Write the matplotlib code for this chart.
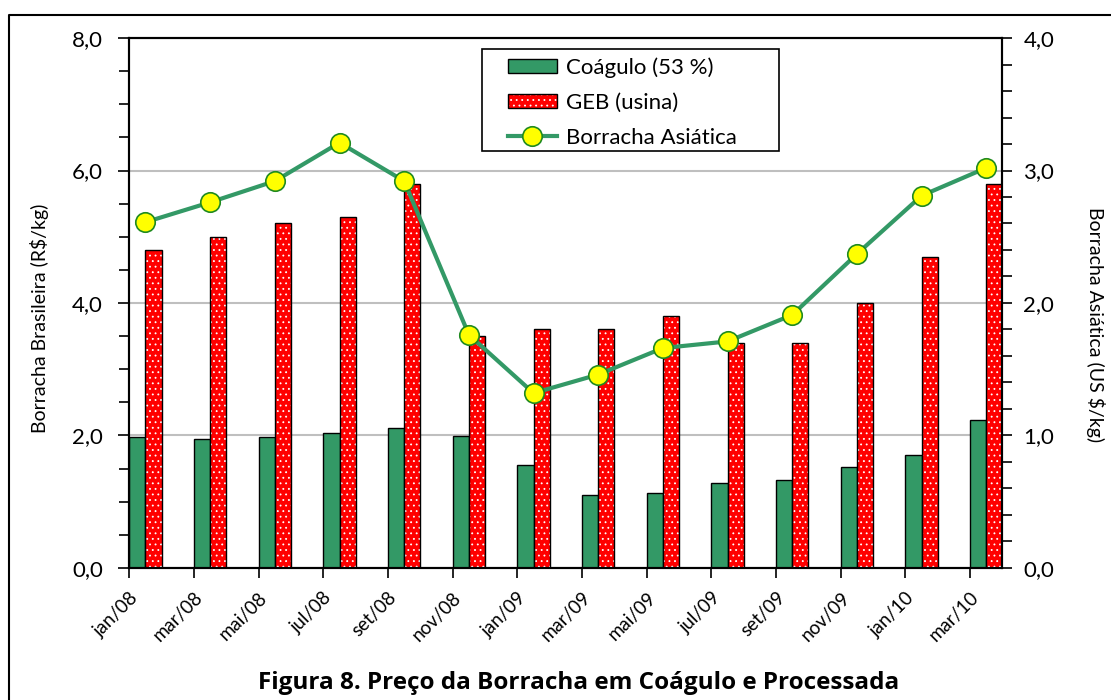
import numpy as np
import matplotlib
matplotlib.use("Agg")
import matplotlib.pyplot as plt
from matplotlib.patches import Patch, Rectangle
from matplotlib.lines import Line2D
from matplotlib.ticker import FuncFormatter, MultipleLocator

plt.rcParams['font.family'] = ['Lato', 'DejaVu Sans']
plt.rcParams['hatch.linewidth'] = 0.6

# data
months = ['jan/08', 'mar/08', 'mai/08', 'jul/08', 'set/08', 'nov/08', 'jan/09',
          'mar/09', 'mai/09', 'jul/09', 'set/09', 'nov/09', 'jan/10', 'mar/10']
coagulo = [1.97, 1.94, 1.97, 2.04, 2.12, 1.99, 1.55, 1.10, 1.13, 1.28, 1.33, 1.52, 1.70, 2.24]
geb = [4.8, 5.0, 5.2, 5.3, 5.8, 3.5, 3.6, 3.6, 3.8, 3.4, 3.4, 4.0, 4.7, 5.8]
asiatica = [2.61, 2.76, 2.92, 3.21, 2.92, 1.76, 1.32, 1.46, 1.66, 1.71, 1.91, 2.37, 2.81, 3.02]

GREEN = '#339966'
RED = '#ff0000'
W, H = 1111, 700

# one slot per month, labels every two months
x = np.arange(len(months)) * 2

fig = plt.figure(figsize=(W / 100, H / 100), dpi=100)
ax = fig.add_axes([0.1164, 0.1886, 0.9023 - 0.1164, 0.9457 - 0.1886])
ax2 = ax.twinx()

w = 0.5
ax.bar(x - w / 2, coagulo, width=w, color=GREEN, edgecolor='black', linewidth=1.0, zorder=2)
ax.bar(x + w / 2, geb, width=w, color=RED, edgecolor='white', hatch='...', linewidth=0, zorder=2)
ax.bar(x + w / 2, geb, width=w, fill=False, edgecolor='black', linewidth=1.0, zorder=3)

ax2.plot(x, asiatica, color=GREEN, linewidth=3, marker='o', markersize=14,
         markerfacecolor='#ffff00', markeredgecolor='#1f8a1f', markeredgewidth=1.2, zorder=4)

ax.set_xlim(-0.5, 26.5)
ax.set_ylim(0, 8)
ax2.set_ylim(0, 4)

ax.set_xticks(x - 0.5)
ax.set_xticklabels(months, rotation=45, ha='right', va='top', rotation_mode='anchor', fontsize=13.5)
ax.tick_params(axis='x', direction='out', length=7, width=1.2, pad=8)

comma = FuncFormatter(lambda v, p: f'{v:.1f}'.replace('.', ','))
ax.yaxis.set_major_locator(MultipleLocator(2))
ax.yaxis.set_minor_locator(MultipleLocator(0.5))
ax.yaxis.set_major_formatter(comma)
ax2.yaxis.set_major_locator(MultipleLocator(1))
ax2.yaxis.set_minor_locator(MultipleLocator(0.2))
ax2.yaxis.set_major_formatter(comma)
ax.tick_params(axis='y', which='major', direction='out', length=8, width=1.2, labelsize=16, pad=11)
ax.tick_params(axis='y', which='minor', direction='out', length=7, width=1.2)
ax2.tick_params(axis='y', which='major', direction='out', length=7, width=1.2, labelsize=16, pad=8)
ax2.tick_params(axis='y', which='minor', direction='out', length=7, width=1.2)

ax.set_axisbelow(True)
ax.yaxis.grid(True, color='#bfbfbf', linewidth=1.5)
for a in (ax, ax2):
    for s in a.spines.values():
        s.set_linewidth(1.5)
        s.set_color('black')

fig.text(40 / W, 1 - 318 / H, r'Borracha Brasileira (R\$/kg)', rotation=90,
         ha='center', va='center', fontsize=14)
fig.text(1095 / W, 1 - 325 / H, r'Borracha Asiática (US \$/kg)', rotation=270,
         ha='center', va='center', fontsize=14)

fig.text(579 / W, 1 - 683 / H, 'Figura 8. Preço da Borracha em Coágulo e Processada',
         ha='center', va='center', fontsize=17.5, fontweight='bold', family='Open Sans')

# legend: frame drawn separately so its size matches the reference box
fig.add_artist(Rectangle((482 / W, 1 - 151 / H), 297 / W, 102 / H, transform=fig.transFigure,
                         facecolor='white', edgecolor='black', linewidth=1.2, zorder=5))
h1 = Patch(facecolor=GREEN, edgecolor='black', linewidth=1.0)
h2 = (Patch(facecolor=RED, edgecolor='white', hatch='...', linewidth=0),
      Patch(fill=False, edgecolor='black', linewidth=1.0))
h3 = Line2D([], [], color=GREEN, linewidth=3, marker='o', markersize=14,
            markerfacecolor='#ffff00', markeredgecolor='#1f8a1f', markeredgewidth=1.2)
leg = fig.legend([h1, h2, h3], ['Coágulo (53 %)', 'GEB (usina)', 'Borracha Asiática'],
                 loc='upper left', bbox_to_anchor=(508 / W, 1 - 57 / H),
                 borderaxespad=0, borderpad=0, fontsize=16, frameon=False,
                 handlelength=2.2, handleheight=0.6, labelspacing=0.68, handletextpad=0.4)
leg.set_zorder(6)

# outer chart border (cropped at right and bottom)
fig.add_artist(Line2D([9 / W, 9 / W, 1.0], [0.0, 1 - 15 / H, 1 - 15 / H],
                      transform=fig.transFigure, color='black', linewidth=1.5))

fig.savefig('out.png', dpi=100)
